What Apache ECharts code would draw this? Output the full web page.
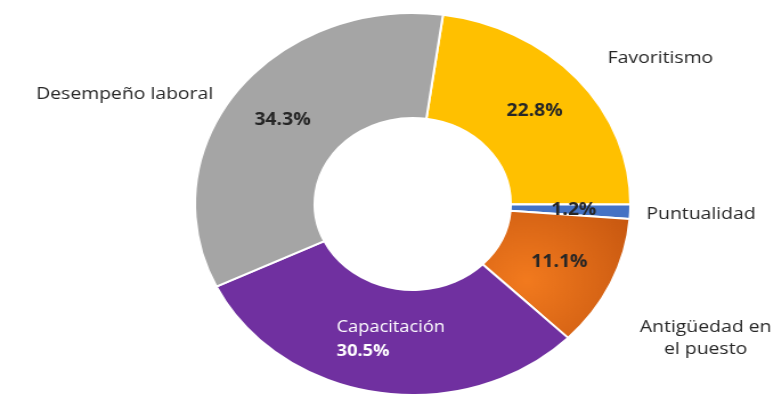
<!DOCTYPE html>
<html>
<head>
<meta charset="utf-8">
<script src="https://cdn.jsdelivr.net/npm/echarts@6/dist/echarts.min.js"></script>
<style>
  html, body { margin: 0; padding: 0; background: #fff; overflow: hidden; }
  #chart { width: 677px; height: 403px; transform: scaleX(1.14); transform-origin: 0 0; }
</style>
</head>
<body>
<div id="chart"></div>
<script>
const categories = ['Favoritismo', 'Puntualidad', 'Antigüedad en\nel puesto', 'Capacitación', 'Desempeño laboral'];
const values = [22.8, 1.2, 11.1, 30.5, 34.3];

const colors = [
  '#FFC000',
  '#4472C4',
  { type: 'radial', x: 0.3, y: 0.55, r: 0.9, colorStops: [{ offset: 0, color: '#F27A1E' }, { offset: 1, color: '#C4550F' }] },
  '#7030A0',
  '#A5A5A5'
];

// outside label anchor points (chart layout, not data)
const outsideLabelPos = [
  { x: 533, y: 58, align: 'left' },
  { x: 567, y: 214, align: 'left' },
  { x: 619, y: 338, align: 'center' },
  null,
  { x: 187, y: 94, align: 'right' }
];

const font = '"Open Sans", "Noto Sans", sans-serif';

const innerData = categories.map((c, i) => {
  const item = { name: c, value: values[i], itemStyle: { color: colors[i] } };
  if (i === 3) {
    item.label = {
      formatter: '{n|' + c + '}\n{b|' + values[i].toFixed(1) + '%}',
      offset: [4, -4],
      rich: {
        n: { color: '#ffffff', fontSize: 16, fontWeight: 'normal', fontFamily: font, lineHeight: 24, align: 'left' },
        b: { color: '#ffffff', fontSize: 16, fontWeight: 'bold', fontFamily: font, lineHeight: 24, align: 'left' }
      }
    };
  }
  return item;
});

const outerData = categories.map((c, i) => ({
  name: c,
  value: values[i],
  label: { show: i !== 3 }
}));

const chart = echarts.init(document.getElementById('chart'), null, { renderer: 'canvas' });
chart.setOption({
  animation: false,
  series: [
    {
      type: 'pie',
      center: [362, 204],
      radius: [86, 191],
      startAngle: 82,
      clockwise: true,
      avoidLabelOverlap: false,
      itemStyle: { borderColor: '#ffffff', borderWidth: 2 },
      label: {
        show: true,
        position: 'inside',
        formatter: p => p.value.toFixed(1) + '%',
        color: '#262626',
        fontSize: 17,
        fontWeight: 'bold',
        fontFamily: font
      },
      labelLine: { show: false },
      emphasis: { disabled: true },
      data: innerData
    },
    {
      type: 'pie',
      center: [362, 204],
      radius: [86, 191],
      startAngle: 82,
      clockwise: true,
      silent: true,
      avoidLabelOverlap: false,
      itemStyle: { color: 'rgba(0,0,0,0)' },
      label: {
        show: true,
        position: 'outside',
        formatter: p => p.name,
        color: '#262626',
        fontSize: 17,
        lineHeight: 22,
        fontFamily: font
      },
      labelLine: { show: false },
      labelLayout: p => {
        const pos = outsideLabelPos[p.dataIndex];
        if (!pos) return {};
        return { x: pos.x, y: pos.y, align: pos.align, verticalAlign: 'middle' };
      },
      emphasis: { disabled: true },
      data: outerData
    }
  ]
});
</script>
</body>
</html>
